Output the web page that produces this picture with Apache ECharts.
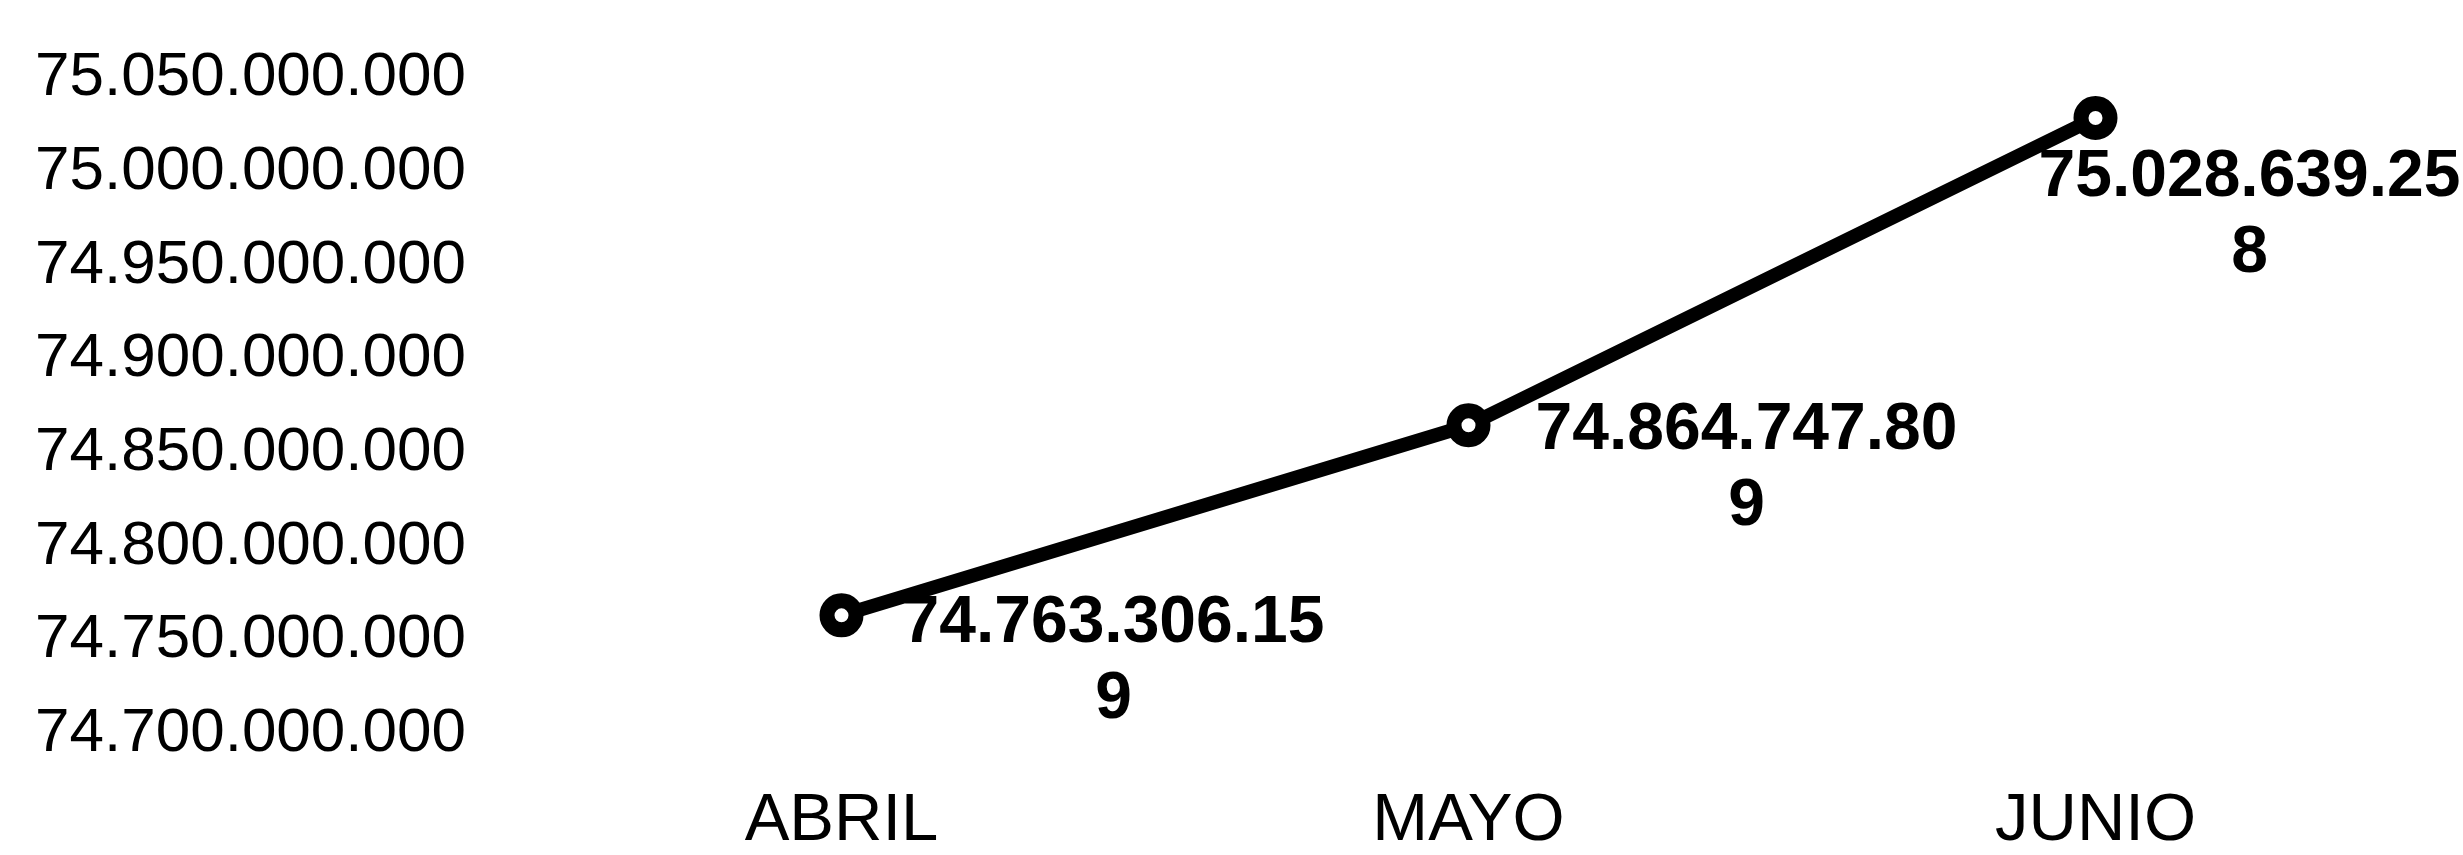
<!DOCTYPE html>
<html>
<head>
<meta charset="utf-8">
<script src="https://cdn.jsdelivr.net/npm/echarts@6/dist/echarts.min.js"></script>
<style>
html,body{margin:0;padding:0;background:#fff;}
#chart{width:2463px;height:855px;}
</style>
</head>
<body>
<div id="chart"></div>
<script>
// Data
var categories = ['ABRIL', 'MAYO', 'JUNIO'];
var values = [74763306159, 74864747809, 75028639258];
var yMin = 74700000000;
var yMax = 75050000000;
var yStep = 50000000;

function dots(n) {
  return String(Math.round(n)).replace(/\B(?=(\d{3})+(?!\d))/g, '.');
}

// label placement per point (styling, not data)
var labelOffsets = [[272, 46], [278, 44], [154, 98]];

var seriesData = values.map(function (v, i) {
  return { value: v, label: { offset: labelOffsets[i] } };
});

var chart = echarts.init(document.getElementById('chart'), null, { renderer: 'canvas' });
chart.setOption({
  backgroundColor: '#ffffff',
  animation: false,
  grid: { left: 528, width: 1881, top: 78, height: 669, containLabel: false },
  xAxis: {
    type: 'category',
    data: categories,
    boundaryGap: true,
    axisLine: { show: false },
    axisTick: { show: false },
    splitLine: { show: false },
    axisLabel: {
      margin: 54,
      color: '#000',
      fontFamily: 'Liberation Sans, Arial, sans-serif',
      fontSize: 67
    }
  },
  yAxis: {
    type: 'value',
    min: yMin,
    max: yMax,
    interval: yStep,
    axisLine: { show: false },
    axisTick: { show: false },
    splitLine: { show: false },
    axisLabel: {
      margin: 62,
      color: '#000',
      fontFamily: 'Liberation Sans, Arial, sans-serif',
      fontSize: 62,
      padding: [0, 0, 34, 0],
      formatter: function (v) { return dots(v); }
    }
  },
  series: [{
    type: 'line',
    data: seriesData,
    lineStyle: { color: '#000', width: 14 },
    symbol: 'circle',
    symbolSize: 29,
    itemStyle: { color: '#fff', borderColor: '#000', borderWidth: 15 },
    label: {
      show: true,
      position: 'inside',
      align: 'center',
      verticalAlign: 'middle',
      color: '#000',
      fontFamily: 'Liberation Sans, Arial, sans-serif',
      fontWeight: 'bold',
      fontSize: 66,
      lineHeight: 76,
      formatter: function (p) {
        var s = dots(p.value);
        return s.slice(0, 13) + '\n' + s.slice(13);
      }
    }
  }]
});
</script>
</body>
</html>
